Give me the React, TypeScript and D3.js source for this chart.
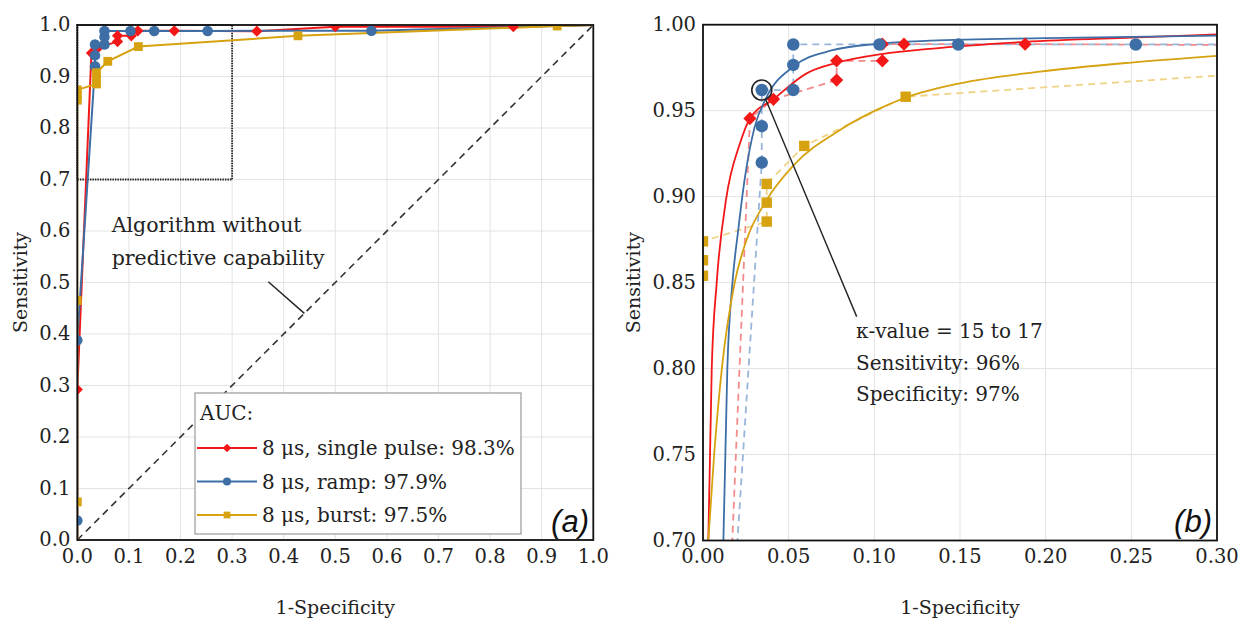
import React from "react";
import * as d3 from "d3";

// ---------- tick labels ----------
const ticksA = [0, 0.1, 0.2, 0.3, 0.4, 0.5, 0.6, 0.7, 0.8, 0.9, 1.0];
const ticksBX = [0, 0.05, 0.1, 0.15, 0.2, 0.25, 0.3];
const ticksBY = [0.7, 0.75, 0.8, 0.85, 0.9, 0.95, 1.0];

// ---------- empirical ROC points (1-specificity, sensitivity) ----------
const singlePulseFpr = [0, 0, 0.0274, 0.0411, 0.078, 0.078, 0.1047, 0.1047, 0.1173, 0.188, 0.348, 0.5, 0.845, 1];
const singlePulseTpr = [0, 0.292, 0.9455, 0.9566, 0.9678, 0.979, 0.979, 0.9887, 0.9887, 0.9887, 0.988, 0.9967, 0.9967, 1];

const rampFpr = [0, 0, 0, 0.0343, 0.0343, 0.0343, 0.0527, 0.0527, 0.0527, 0.103, 0.149, 0.2526, 0.57, 1];
const rampTpr = [0, 0.038, 0.388, 0.9198, 0.941, 0.962, 0.962, 0.9766, 0.9885, 0.9885, 0.9885, 0.9885, 0.989, 1];

const burstFpr = [0, 0, 0, 0, 0, 0, 0.0372, 0.0372, 0.0372, 0.0591, 0.1183, 0.4277, 0.93, 1];
const burstTpr = [0, 0.074, 0.465, 0.854, 0.863, 0.874, 0.8855, 0.8965, 0.9074, 0.9295, 0.9581, 0.979, 0.998, 1];

// ---------- fitted curves (panel b) ----------
const singlePulseFitFpr = [0.0031, 0.0051, 0.008, 0.0134, 0.0216, 0.0274, 0.0411, 0.0605, 0.078, 0.105, 0.1325, 0.188, 0.25, 0.3];
const singlePulseFitTpr = [0.7, 0.8, 0.85, 0.898, 0.931, 0.9455, 0.9566, 0.9717, 0.9778, 0.983, 0.986, 0.99, 0.9925, 0.9943];

const rampFitFpr = [0.0119, 0.0142, 0.0172, 0.0205, 0.0243, 0.03, 0.0372, 0.0527, 0.075, 0.103, 0.1325, 0.2, 0.3];
const rampFitTpr = [0.7, 0.8, 0.85, 0.88, 0.91, 0.94, 0.958, 0.9756, 0.985, 0.989, 0.9907, 0.9922, 0.9936];

const burstFitFpr = [0.0031, 0.0065, 0.011, 0.0185, 0.0255, 0.0365, 0.0527, 0.08, 0.1004, 0.1189, 0.15, 0.1967, 0.25, 0.3];
const burstFitTpr = [0.7, 0.75, 0.8, 0.85, 0.875, 0.897, 0.918, 0.9388, 0.95, 0.9578, 0.9659, 0.9727, 0.978, 0.9819];

const legendTitle = "AUC:";
const legendLabels = ["8 μs, single pulse: 98.3%", "8 μs, ramp: 97.9%", "8 μs, burst: 97.5%"];
const annotationA = ["Algorithm without", "predictive capability"];
const annotationB = ["κ-value = 15 to 17", "Sensitivity: 96%", "Specificity: 97%"];
const circledPoint = [0.0343, 0.962];

type MarkerType = "diamond" | "circle" | "square";

const series = [
  { fpr: singlePulseFpr, tpr: singlePulseTpr, fitFpr: singlePulseFitFpr, fitTpr: singlePulseFitTpr, color: "#f21818", light: "#f38b8b", marker: "diamond" as MarkerType, label: legendLabels[0] },
  { fpr: rampFpr, tpr: rampTpr, fitFpr: rampFitFpr, fitTpr: rampFitTpr, color: "#3d6ea6", light: "#97b6da", marker: "circle" as MarkerType, label: legendLabels[1] },
  { fpr: burstFpr, tpr: burstTpr, fitFpr: burstFitFpr, fitTpr: burstFitTpr, color: "#d6a20f", light: "#f0d386", marker: "square" as MarkerType, label: legendLabels[2] },
];

const SERIF = "'DejaVu Serif', 'Liberation Serif', serif";
const SANS = "'Liberation Sans', Arial, sans-serif";

function Marker({ type, x, y, s, color }: { type: MarkerType; x: number; y: number; s: number; color: string }) {
  if (type === "diamond") {
    const d = s * 0.72;
    return <rect x={x - d / 2} y={y - d / 2} width={d} height={d} fill={color} transform={`rotate(45 ${x} ${y})`} />;
  }
  if (type === "circle") return <circle cx={x} cy={y} r={s * 0.48} fill={color} />;
  const q = s * 0.8;
  return <rect x={x - q / 2} y={y - q / 2} width={q} height={q} fill={color} />;
}

export default function App() {
  const ax = d3.scaleLinear().domain([0, 1]).range([77.3, 593.3]);
  const ay = d3.scaleLinear().domain([0, 1]).range([540, 25]);
  const bx = d3.scaleLinear().domain([0, 0.3]).range([703, 1217]);
  const by = d3.scaleLinear().domain([0.7, 1]).range([540.5, 24.7]);

  const lineA = (xs: number[], ys: number[]) =>
    d3.line<number>().x((_, i) => ax(xs[i])).y((_, i) => ay(ys[i]))(xs) || "";
  const lineB = (xs: number[], ys: number[], curve: d3.CurveFactory = d3.curveLinear) =>
    d3.line<number>().x((_, i) => bx(xs[i])).y((_, i) => by(ys[i])).curve(curve)(xs) || "";

  const [ax0, ax1] = ax.range();
  const [ay0, ay1] = ay.range();
  const [bx0, bx1] = bx.range();
  const [by0, by1] = by.range();

  // annotation in b
  const cx = bx(circledPoint[0]);
  const cy = by(circledPoint[1]);
  const endX = bx(0.0897);
  const endY = by(0.8302);
  const ang = Math.atan2(endY - cy, endX - cx);
  const cr = 10;

  return (
    <svg width={1247} height={620} style={{ display: "block", position: "absolute", left: 0, top: 0 }}>
      <defs>
        <clipPath id="clipA">
          <rect x={ax0} y={ay1} width={ax1 - ax0} height={ay0 - ay1} />
        </clipPath>
        <clipPath id="clipB">
          <rect x={bx0} y={by1} width={bx1 - bx0} height={by0 - by1} />
        </clipPath>
      </defs>
      <rect width={1247} height={620} fill="#fff" />

      {/* ================= Panel (a) ================= */}
      <g>
        {ticksA.map((t) => (
          <g key={"ga" + t}>
            <line x1={ax(t)} x2={ax(t)} y1={ay1} y2={ay0} stroke="#e3e3e3" strokeWidth={1} />
            <line x1={ax0} x2={ax1} y1={ay(t)} y2={ay(t)} stroke="#e3e3e3" strokeWidth={1} />
          </g>
        ))}
        {/* diagonal */}
        <line x1={ax(0)} y1={ay(0)} x2={ax(1)} y2={ay(1)} stroke="#333" strokeWidth={1.6} strokeDasharray="7,5" />
        {/* zoom box */}
        <rect x={ax(0)} y={ay(1)} width={ax(0.3) - ax(0)} height={ay(0.7) - ay(1)} fill="none" stroke="#222" strokeWidth={1.8} strokeDasharray="1.5,1" />
        <g clipPath="url(#clipA)">
          {series.map((s, k) => (
            <path key={"la" + k} d={lineA(s.fpr, s.tpr)} fill="none" stroke={s.color} strokeWidth={2} />
          ))}
          {series.map((s, k) =>
            s.fpr.map((f, i) =>
              i === 0 || i === s.fpr.length - 1 ? null : (
                <Marker key={"ma" + k + "-" + i} type={s.marker} x={ax(f)} y={ay(s.tpr[i])} s={11} color={s.color} />
              )
            )
          )}
        </g>
        <rect x={ax0} y={ay1} width={ax1 - ax0} height={ay0 - ay1} fill="none" stroke="#111" strokeWidth={1.8} />
        {/* annotation */}
        <text x={111.7} y={231.7} fontFamily={SERIF} fontSize={20.5} fill="#222">{annotationA[0]}</text>
        <text x={111.7} y={265} fontFamily={SERIF} fontSize={20.5} fill="#222">{annotationA[1]}</text>
        <line x1={268.3} y1={281.7} x2={ax(0.44)} y2={ay(0.44)} stroke="#222" strokeWidth={1.4} />
        {/* legend */}
        <rect x={195} y={393} width={326} height={141} fill="#fff" stroke="#9a9a9a" strokeWidth={1.2} />
        <text x={200} y={420} fontFamily={SERIF} fontSize={20} fill="#222">{legendTitle}</text>
        {series.map((s, k) => {
          const yy = 448 + k * 33.5;
          return (
            <g key={"lg" + k}>
              <line x1={197} x2={257} y1={yy} y2={yy} stroke={s.color} strokeWidth={2} />
              <Marker type={s.marker} x={227} y={yy} s={8.5} color={s.color} />
              <text x={262} y={yy + 7} fontFamily={SERIF} fontSize={20} fill="#222">{s.label}</text>
            </g>
          );
        })}
        <text x={589} y={532} fontFamily={SANS} fontStyle="italic" fontSize={31} textAnchor="end" fill="#111">(a)</text>
        {/* ticks */}
        {ticksA.map((t) => (
          <text key={"tya" + t} x={ax0 - 7} y={ay(t) + 6} fontFamily={SERIF} fontSize={19.5} textAnchor="end" fill="#222">{t.toFixed(1)}</text>
        ))}
        {ticksA.map((t) => (
          <text key={"txa" + t} x={ax(t)} y={563} fontFamily={SERIF} fontSize={19.5} textAnchor="middle" fill="#222">{t.toFixed(1)}</text>
        ))}
        <text x={(ax0 + ax1) / 2} y={614} fontFamily={SERIF} fontSize={19} textAnchor="middle" fill="#222">1-Specificity</text>
        <text transform={`translate(27 ${(ay0 + ay1) / 2}) rotate(-90)`} fontFamily={SERIF} fontSize={19} textAnchor="middle" fill="#222">Sensitivity</text>
      </g>

      {/* ================= Panel (b) ================= */}
      <g>
        {ticksBX.map((t) => (
          <line key={"gbx" + t} x1={bx(t)} x2={bx(t)} y1={by1} y2={by0} stroke="#e3e3e3" strokeWidth={1} />
        ))}
        {ticksBY.map((t) => (
          <line key={"gby" + t} x1={bx0} x2={bx1} y1={by(t)} y2={by(t)} stroke="#e3e3e3" strokeWidth={1} />
        ))}
        <g clipPath="url(#clipB)">
          {series.map((s, k) => (
            <path key={"db" + k} d={lineB(s.fpr, s.tpr)} fill="none" stroke={s.light} strokeWidth={1.8} strokeDasharray="7,5" />
          ))}
          {series.map((s, k) => (
            <path key={"fb" + k} d={lineB(s.fitFpr, s.fitTpr, d3.curveMonotoneX)} fill="none" stroke={s.color} strokeWidth={1.8} />
          ))}
          {series.map((s, k) =>
            s.fpr.map((f, i) =>
              f > 0.31 || s.tpr[i] < 0.69 ? null : (
                <Marker key={"mb" + k + "-" + i} type={s.marker} x={bx(f)} y={by(s.tpr[i])} s={13} color={s.color} />
              )
            )
          )}
        </g>
        <rect x={bx0} y={by1} width={bx1 - bx0} height={by0 - by1} fill="none" stroke="#111" strokeWidth={1.8} />
        {/* annotation */}
        <circle cx={cx} cy={cy} r={cr} fill="none" stroke="#222" strokeWidth={1.6} />
        <line x1={cx + cr * Math.cos(ang)} y1={cy + cr * Math.sin(ang)} x2={endX} y2={endY} stroke="#222" strokeWidth={1.4} />
        {annotationB.map((t, i) => (
          <text key={"anb" + i} x={856} y={338 + i * 31.5} fontFamily={SERIF} fontSize={20} fill="#222">{t}</text>
        ))}
        <text x={1212} y={532} fontFamily={SANS} fontStyle="italic" fontSize={31} textAnchor="end" fill="#111">(b)</text>
        {ticksBY.map((t) => (
          <text key={"tyb" + t} x={bx0 - 7} y={by(t) + 6} fontFamily={SERIF} fontSize={19.5} textAnchor="end" fill="#222">{t.toFixed(2)}</text>
        ))}
        {ticksBX.map((t) => (
          <text key={"txb" + t} x={bx(t)} y={563} fontFamily={SERIF} fontSize={19.5} textAnchor="middle" fill="#222">{t.toFixed(2)}</text>
        ))}
        <text x={(bx0 + bx1) / 2} y={614} fontFamily={SERIF} fontSize={19} textAnchor="middle" fill="#222">1-Specificity</text>
        <text transform={`translate(640 ${(by0 + by1) / 2}) rotate(-90)`} fontFamily={SERIF} fontSize={19} textAnchor="middle" fill="#222">Sensitivity</text>
      </g>
    </svg>
  );
}
